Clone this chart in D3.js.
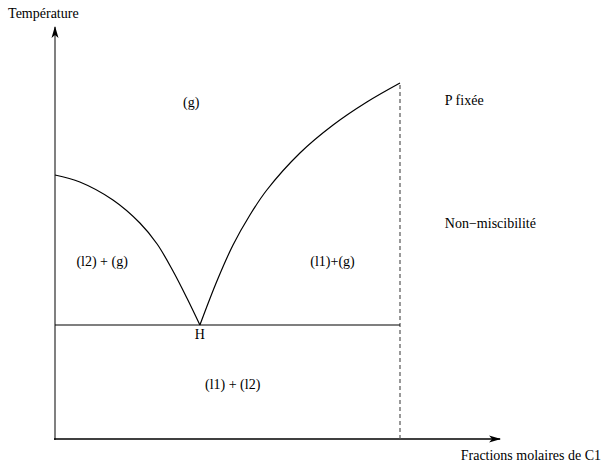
<!DOCTYPE html>
<html>
<head>
<meta charset="utf-8">
<script src="https://cdn.jsdelivr.net/npm/d3@7"></script>
<style>
  body { margin: 0; background: #fff; }
  text { font-family: "Liberation Serif", "Times New Roman", serif; font-size: 14px; fill: #000; }
</style>
</head>
<body>
<script>
// composition (fraction molaire de C1) and temperature
var liquidus2X = [0, 0.072, 0.168, 0.246, 0.296, 0.342, 0.383, 0.42],
    liquidus2T = [264, 257, 239, 216, 195, 168, 140.5, 114],
    liquidus1X = [0.42, 0.47, 0.516, 0.565, 0.614, 0.71, 0.806, 0.904, 1],
    liquidus1T = [114, 158.5, 194, 224, 249, 286, 314, 337, 356],
    heteroT = 114,     // palier de l'hétéroazéotrope H
    limitX = 1;        // limite de non-miscibilité (tirets)

var labels = [
    { text: 'Température', x: -0.136, t: 421, anchor: 'start' },
    { text: '(g)', x: 0.395, t: 332, anchor: 'middle' },
    { text: 'P fixée', x: 1.13, t: 334, anchor: 'start' },
    { text: 'Non\u2212miscibilité', x: 1.13, t: 211, anchor: 'start' },
    { text: '(l2) + (g)', x: 0.062, t: 173, anchor: 'start' },
    { text: '(l1)+(g)', x: 0.74, t: 173, anchor: 'start' },
    { text: 'H', x: 0.42, t: 100, anchor: 'middle' },
    { text: '(l1) + (l2)', x: 0.515, t: 50, anchor: 'middle' },
    { text: 'Fractions molaires de C1', x: 1.176, t: -21, anchor: 'start' }
];

var width = 606,
    height = 465;

var x = d3.scaleLinear().domain([0, 1]).range([55, 400]),
    y = d3.scaleLinear().domain([0, 360]).range([439, 79]);

var svg = d3.select('body').append('svg')
    .attr('width', width)
    .attr('height', height);

var defs = svg.append('defs');
defs.append('marker')
    .attr('id', 'arrow')
    .attr('viewBox', '0 -4 12 8')
    .attr('refX', 11)
    .attr('refY', 0)
    .attr('markerUnits', 'userSpaceOnUse')
    .attr('markerWidth', 12)
    .attr('markerHeight', 8)
    .attr('orient', 'auto')
    .append('path')
    .attr('d', 'M0,-3.5L12,0L0,3.5L3,0Z')
    .attr('fill', '#000');

// y axis (grey) and x axis (black), both with arrow heads
svg.append('line')
    .attr('x1', x(0)).attr('y1', y(0) + 1)
    .attr('x2', x(0)).attr('y2', y(412))
    .attr('stroke', '#808080')
    .attr('stroke-width', 2)
    .attr('marker-end', 'url(#arrow)');

svg.append('line')
    .attr('x1', x(0) - 1).attr('y1', y(0))
    .attr('x2', x(1.29)).attr('y2', y(0))
    .attr('stroke', '#000')
    .attr('stroke-width', 1.3)
    .attr('marker-end', 'url(#arrow)');

// dashed limit
svg.append('line')
    .attr('x1', x(limitX)).attr('y1', y(0))
    .attr('x2', x(limitX)).attr('y2', y(d3.max(liquidus1T)))
    .attr('stroke', '#555')
    .attr('stroke-width', 1.2)
    .attr('stroke-dasharray', '4,3');

// horizontal H line
svg.append('line')
    .attr('x1', x(0)).attr('y1', y(heteroT))
    .attr('x2', x(limitX)).attr('y2', y(heteroT))
    .attr('stroke', '#000')
    .attr('stroke-width', 1.2);

var line = d3.line()
    .x(function (d) { return x(d[0]); })
    .y(function (d) { return y(d[1]); })
    .curve(d3.curveCatmullRom.alpha(0.5));

[d3.zip(liquidus2X, liquidus2T), d3.zip(liquidus1X, liquidus1T)].forEach(function (pts) {
    svg.append('path')
        .attr('d', line(pts))
        .attr('fill', 'none')
        .attr('stroke', '#000')
        .attr('stroke-width', 1.2);
});

svg.selectAll('text.lbl').data(labels).enter().append('text')
    .attr('class', 'lbl')
    .attr('x', function (d) { return x(d.x); })
    .attr('y', function (d) { return y(d.t); })
    .attr('text-anchor', function (d) { return d.anchor; })
    .text(function (d) { return d.text; });
</script>
</body>
</html>
